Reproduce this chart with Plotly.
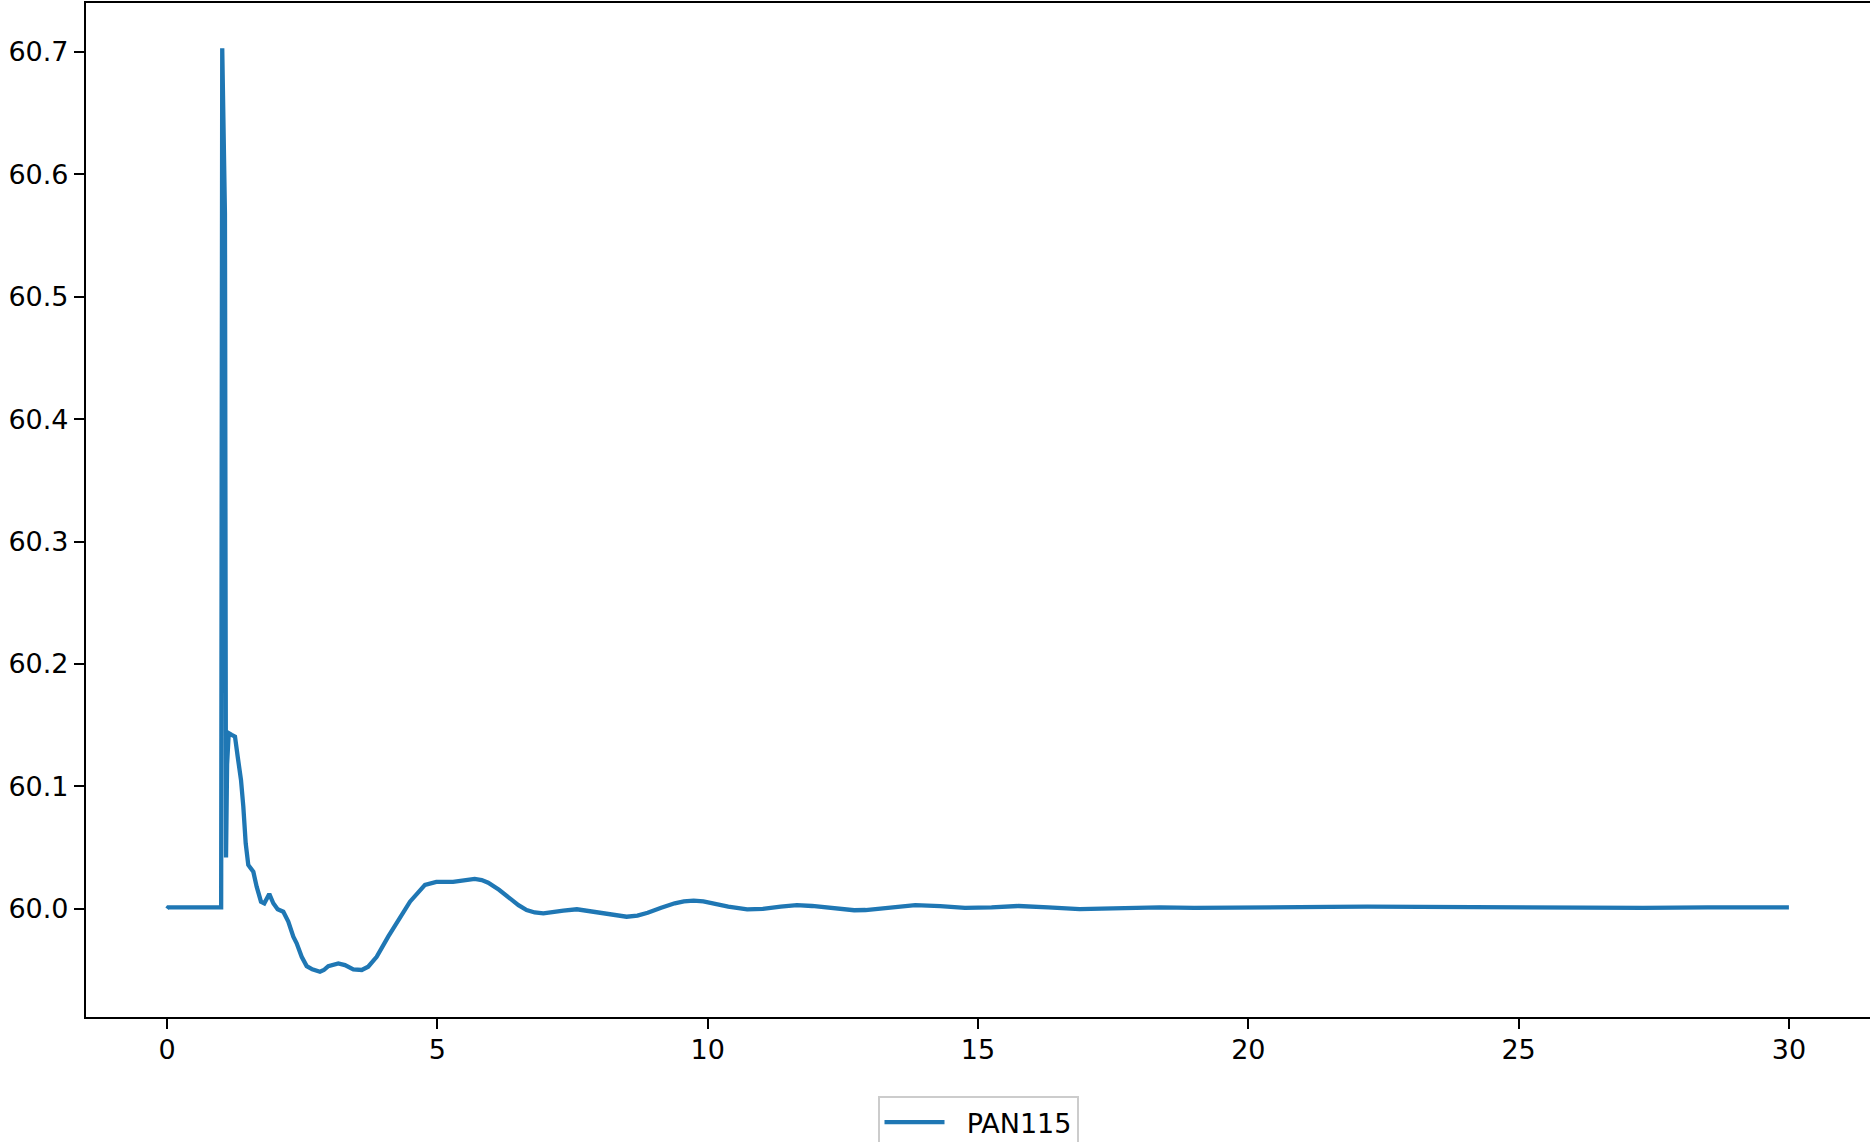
import plotly.graph_objects as go

# Time (s) and value samples
t_vals = [0.0, 0.02, 1.0, 1.005, 1.02, 1.07, 1.09, 1.11, 1.14, 1.195, 1.256, 1.306,
          1.367, 1.41, 1.454, 1.502, 1.595, 1.657, 1.737, 1.798, 1.84, 1.89, 1.965,
          2.045, 2.15, 2.242, 2.335, 2.397, 2.49, 2.582, 2.686, 2.828, 2.90, 2.982,
          3.167, 3.29, 3.445, 3.60, 3.72, 3.877, 4.09, 4.277, 4.493, 4.77, 4.88, 4.98,
          5.29, 5.50, 5.69, 5.82, 5.94, 6.14, 6.34, 6.50, 6.65, 6.80, 6.96, 7.15, 7.33,
          7.58, 7.80, 8.04, 8.27, 8.50, 8.70, 8.89, 9.14, 9.39, 9.56, 9.74, 9.92, 10.09,
          10.38, 10.73, 11.02, 11.35, 11.65, 11.93, 12.30, 12.71, 12.92, 13.40, 13.84,
          14.30, 14.76, 15.25, 15.75, 16.30, 16.88, 17.50, 18.36, 19.00, 19.60, 20.30,
          21.50, 22.20, 23.50, 24.50, 25.30, 26.50, 27.30, 28.50, 30.0]
v_vals = [60.0, 60.0012, 60.0012, 60.703, 60.703, 60.568, 60.042, 60.118, 60.1435,
          60.1421, 60.1407, 60.1243, 60.1053, 60.0835, 60.0535, 60.0358, 60.0303,
          60.0181, 60.0058, 60.0045, 60.008, 60.0121, 60.0045, 59.9996, 59.9976,
          59.9895, 59.9772, 59.9718, 59.9608, 59.9532, 59.9505, 59.9486, 59.950,
          59.9532, 59.9554, 59.954, 59.9505, 59.950, 59.9527, 59.9608, 59.9772,
          59.9908, 60.0058, 60.0195, 60.0212, 60.022, 60.022, 60.0228, 60.0244,
          60.0235, 60.0213, 60.0155, 60.0086, 60.003, 59.999, 59.997, 59.9963, 59.997,
          59.9985, 59.9996, 59.998, 59.9963, 59.9945, 59.9935, 59.9945, 59.9968,
          60.0008, 60.0045, 60.006, 60.0066, 60.006, 60.0045, 60.0017, 59.9996, 60.0,
          60.0018, 60.003, 60.0023, 60.0005, 59.9988, 59.999, 60.0015, 60.003, 60.0022,
          60.0007, 60.0012, 60.0023, 60.0012, 59.9998, 60.0003, 60.0012, 60.0008,
          60.0008, 60.0015, 60.0015, 60.0018, 60.0013, 60.0012, 60.0007, 60.0009,
          60.0007, 60.0011, 60.0012]

series_name = "PAN115"
x_ticks = [0, 5, 10, 15, 20, 25, 30]
y_ticks = [60.0, 60.1, 60.2, 60.3, 60.4, 60.5, 60.6, 60.7]
y_tick_text = ["60.0", "60.1", "60.2", "60.3", "60.4", "60.5", "60.6", "60.7"]

fig = go.Figure()
fig.add_trace(go.Scatter(x=t_vals, y=v_vals, mode="lines",
                         name="\u00a0\u00a0" + series_name,
                         line=dict(color="#1f77b4", width=4.3)))

font = dict(family="DejaVu Sans", size=27, color="black")
axis_common = dict(showline=True, mirror=True, linecolor="black", linewidth=2.2,
                   ticks="outside", ticklen=10, tickwidth=2.2, tickcolor="black",
                   showgrid=False, zeroline=False, tickfont=font, automargin=False)

fig.update_layout(
    width=1870, height=1142,
    margin=dict(l=86, r=0, t=3, b=125, autoexpand=False),
    paper_bgcolor="white", plot_bgcolor="white",
    font=font,
    showlegend=True,
    legend=dict(x=0.5, xanchor="center", y=-0.078, yanchor="top",
                bordercolor="#cccccc", borderwidth=2, bgcolor="white",
                font=font, itemwidth=60),
    xaxis=dict(range=[-1.5, 31.5], tickvals=x_ticks, ticklabelstandoff=-3, **axis_common),
    yaxis=dict(range=[59.9116, 60.74], tickvals=y_ticks, ticktext=y_tick_text,
               ticklabelstandoff=0, **axis_common),
)

fig.write_html(
    "out.html",
    config={"displayModeBar": False},
    post_script="document.body.style.margin='0';"
                "document.documentElement.style.overflow='hidden';",
)
